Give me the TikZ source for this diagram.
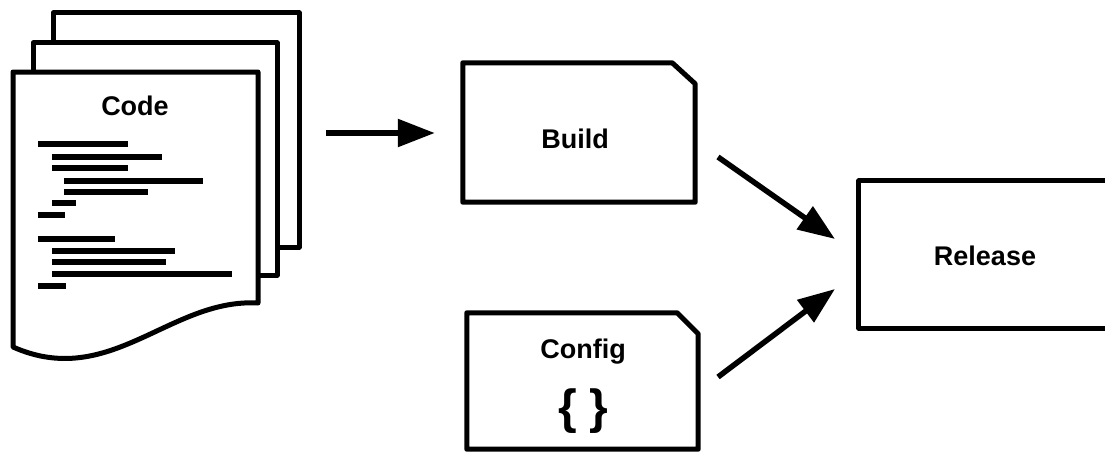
\documentclass[tikz,border=0pt]{standalone}
\usepackage{fontspec}
\setmainfont{Liberation Sans}
\usetikzlibrary{arrows.meta,calc}
\begin{document}
\begin{tikzpicture}[x=1pt,y=-1pt,
  box/.style={line width=5pt,line join=round,fill=white},
  codeline/.style={line width=6pt},
  arr/.style={line width=5.5pt,-{Triangle[length=37pt,width=27pt]}},
  lbl/.style={font=\fontsize{27}{32}\selectfont\bfseries,inner sep=0pt},
  shapebox/.style={draw=none,inner sep=0pt}]
\useasboundingbox (0,0) rectangle (1105,452);
% Code document stack
\draw[box] (53,13) rectangle (299,247);
\draw[box] (33,43) rectangle (277,275);
\draw[box] (13,72) -- (258,72) -- (258,303)
  .. controls (170,298) and (110,390) .. (13,347) -- cycle;
\node[lbl,anchor=base] (codet) at (135,115) {Code};
\foreach \xa/\xb/\yy in {38/128/144, 52/162/157, 52/128/168, 64/203/181, 64/148/192,
  52/76/203, 38/65/215, 38/115/239, 52/175/251, 52/166/262, 52/232/274, 38/66/286}
  \draw[codeline] (\xa,\yy) -- (\xb,\yy);
% Build
\node[shapebox,minimum width=232pt,minimum height=139pt] (build) at (579,132.5) {};
\draw[box] (build.south west) -- (build.north west) -- ([xshift=-23pt]build.north east)
  -- ([yshift=-21pt]build.north east) -- (build.south east) -- cycle;
\node[lbl,anchor=base] (buildt) at (575,148) {Build};
% Config
\node[shapebox,minimum width=231pt,minimum height=136pt] (config) at (582.5,381) {};
\draw[box] (config.south west) -- (config.north west) -- ([xshift=-21pt]config.north east)
  -- ([yshift=-21pt]config.north east) -- (config.south east) -- cycle;
\node[lbl,anchor=base] (configt) at (583,358) {Config};
\node[inner sep=0pt,font=\fontsize{48}{52}\selectfont\bfseries] (braces) at (583,411) {\{\hspace{12pt}\}};
% Release
\node[shapebox,minimum width=248pt,minimum height=147pt] (release) at (983,254.5) {};
\draw[box] (release.south west) rectangle (release.north east);
\node[lbl,anchor=base] (releaset) at (985,265) {Release};
% Connectors
\coordinate (a1s) at (326,133);
\draw[arr,shorten >=28pt] (a1s) -- (build.west |- a1s);
\coordinate (a2s) at (718,157);
\coordinate (a2e) at (835,239);
\draw[arr] (a2s) -- (a2e);
\coordinate (a3s) at (718,377);
\coordinate (a3e) at (835,289);
\draw[arr] (a3s) -- (a3e);
\end{tikzpicture}
\end{document}
